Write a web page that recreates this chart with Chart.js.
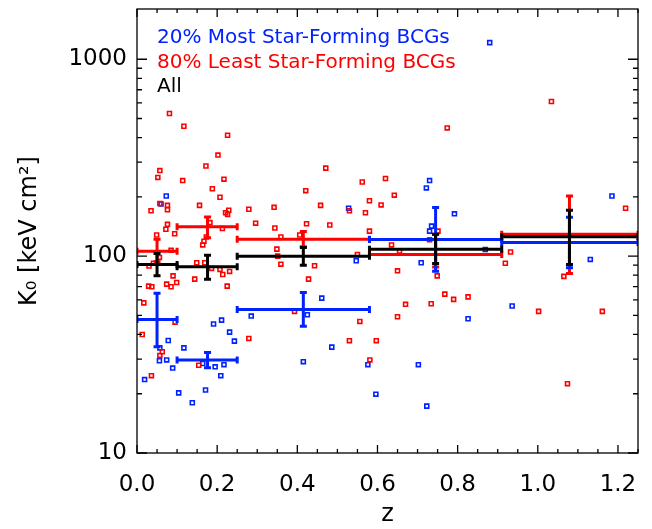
<!DOCTYPE html>
<html><head><meta charset="utf-8">
<script src="https://cdn.jsdelivr.net/npm/chart.js@4/dist/chart.umd.min.js"></script>
<style>html,body{margin:0;padding:0;background:#fff}#wrap{width:652px;height:529px}</style>
</head><body><div id="wrap"><canvas id="c" width="652" height="529"></canvas></div>
<script>
// ---- data ----
const redZ = [0.081,0.117,0.226,0.202,0.172,0.057,0.052,0.114,0.217,0.188,0.207,0.035,0.057,0.076,0.076,0.156,0.221,0.229,0.226,0.279,0.296,0.076,0.072,0.094,0.049,0.182,0.213,0.173,0.167,0.164,0.085,0.030,0.041,0.056,0.149,0.169,0.186,0.207,0.214,0.231,0.090,0.099,0.074,0.085,0.029,0.037,0.144,0.225,0.017,0.095,0.013,0.279,0.063,0.057,0.154,0.036,0.471,0.562,0.620,0.642,0.421,0.342,0.458,0.580,0.609,0.530,0.570,0.344,0.423,0.481,0.359,0.406,0.580,0.635,0.349,0.351,0.359,0.443,0.428,0.550,0.650,0.393,0.556,0.650,0.530,0.597,0.581,0.774,0.751,0.730,0.655,0.932,0.919,0.749,0.768,0.790,0.826,0.670,0.734,1.034,1.219,1.065,1.002,1.161,1.074];
const redK = [530,457,411,326,287,272,251,242,246,220,199,170,185,181,172,181,166,171,163,173,147,145,137,130,128,148,138,125,119,114,107,89,92,98.5,92.5,92.5,86.6,85.6,80.7,83.6,79.4,73.5,72.1,69.9,70.4,69.9,76.4,70.4,57.9,46.2,40.0,38.2,32.7,31.3,27.9,24.7,280,238,248,204,215,177,181,191,182,170,166,139,146,144,125,128,134,114,108.5,100,91,89.3,76.4,102,84.2,52.4,46.6,49.2,37.2,37.2,29.7,448,134,121,106,105,92,79.4,64.1,60.3,62.1,56.9,57.3,610,175,78.9,52.4,52.4,22.5];
const blueZ = [0.073,0.060,0.191,0.211,0.231,0.243,0.285,0.078,0.117,0.057,0.056,0.074,0.089,0.164,0.195,0.217,0.209,0.019,0.104,0.171,0.138,0.528,0.547,0.461,0.425,0.486,0.415,0.576,0.596,0.880,0.730,0.722,0.792,0.735,0.730,0.869,0.709,0.936,0.826,0.702,0.723,1.131,1.185];
const blueK = [202,184,45.2,47.3,41.1,37.0,49.6,37.3,34.2,34.2,29.4,29.7,27.0,28.5,27.4,28.1,24.7,23.6,20.2,20.9,18.0,175,94.7,61.2,50.4,34.5,29.1,28.1,19.9,1215,242,222,164,142,134,108,92.5,55.8,48.1,28.1,17.3,96.2,202];

const binEdges = [0, 0.1, 0.25, 0.58, 0.91, 1.25];
const binZ = [0.050, 0.176, 0.415, 0.745, 1.079];
const redMed = [106, 141, 122, 102, 129];
const redLo  = [93.6, 124, 111.5, 88, 81.7];
const redHi  = [122, 158, 133.5, 129, 202];
const allMed = [90.8, 88.2, 100, 108.5, 125.3];
const allLo  = [79.4, 76.4, 90, 91.8, 90.8];
const allHi  = [103, 101, 110.7, 129, 171];
const blueMed = [47.7, 29.7, 53.6, 121.6, 117.3];
const blueLo  = [34.6, 27.1, 44, 83.9, 87.2];
const blueHi  = [64.7, 32.4, 65.4, 176.7, 157.8];

const xTickValues = [0.0, 0.2, 0.4, 0.6, 0.8, 1.0, 1.2];
const yTickValues = [10, 100, 1000];
const legendLabels = ['20% Most Star-Forming BCGs', '80% Least Star-Forming BCGs', 'All'];

// ---- styles ----
const RED = '#ff0000', BLUE = '#0022ff', BLACK = '#000000';
const FONT = '"DejaVu Sans", sans-serif';

function pts(zs, ks) { return zs.map((z, i) => ({x: z, y: ks[i]})); }
function segs(med) {
  const out = [];
  for (let i = 0; i < med.length; i++) {
    out.push({x: binEdges[i], y: med[i]}, {x: binEdges[i+1], y: med[i]}, {x: binEdges[i+1], y: null});
  }
  return out;
}
const groups = [
  {med: redMed, lo: redLo, hi: redHi, color: RED},
  {med: blueMed, lo: blueLo, hi: blueHi, color: BLUE},
  {med: allMed, lo: allLo, hi: allHi, color: BLACK}
];

const lineDs = (data, color) => ({type: 'line', data, showLine: true, spanGaps: false, borderColor: color, borderWidth: 3, pointRadius: 0, fill: false, borderCapStyle: 'butt'});
const ptDs = (data, color) => ({data, showLine: false, pointStyle: 'rect', pointRadius: 2.8, pointBorderWidth: 1.6, borderColor: color, backgroundColor: 'rgba(0,0,0,0)', pointHoverRadius: 2.8});

const errPlugin = {
  id: 'errbars',
  afterDatasetsDraw(chart) {
    const ctx = chart.ctx, xs = chart.scales.x, ys = chart.scales.y;
    ctx.save();
    ctx.beginPath();
    ctx.rect(chart.chartArea.left, chart.chartArea.top, chart.chartArea.right - chart.chartArea.left, chart.chartArea.bottom - chart.chartArea.top);
    ctx.clip();
    for (const g of groups) {
      ctx.strokeStyle = g.color; ctx.lineWidth = 3; ctx.lineCap = 'butt';
      for (let i = 0; i < g.med.length; i++) {
        const px = xs.getPixelForValue(binZ[i]);
        const pl = ys.getPixelForValue(g.lo[i]), ph = ys.getPixelForValue(g.hi[i]);
        const pm = ys.getPixelForValue(g.med[i]);
        ctx.beginPath();
        ctx.moveTo(px, pl); ctx.lineTo(px, ph);
        ctx.moveTo(px - 3.5, pl); ctx.lineTo(px + 3.5, pl);
        ctx.moveTo(px - 3.5, ph); ctx.lineTo(px + 3.5, ph);
        const e0 = xs.getPixelForValue(binEdges[i]), e1 = xs.getPixelForValue(binEdges[i+1]);
        ctx.moveTo(e0, pm - 3.5); ctx.lineTo(e0, pm + 3.5);
        ctx.moveTo(e1, pm - 3.5); ctx.lineTo(e1, pm + 3.5);
        ctx.stroke();
      }
    }
    ctx.restore();
  }
};

const framePlugin = {
  id: 'frame',
  afterDraw(chart) {
    const ctx = chart.ctx, a = chart.chartArea, xs = chart.scales.x, ys = chart.scales.y;
    ctx.save();
    ctx.strokeStyle = '#000'; ctx.lineWidth = 1.3;
    ctx.strokeRect(a.left, a.top, a.right - a.left, a.bottom - a.top);
    ctx.beginPath();
    for (let k = 0; k <= 25; k++) {
      const v = k * 0.05;
      const p = xs.getPixelForValue(v);
      const len = (k % 4 === 0) ? 8 : 4;
      ctx.moveTo(p, a.bottom); ctx.lineTo(p, a.bottom - len);
      ctx.moveTo(p, a.top); ctx.lineTo(p, a.top + len);
    }
    for (let d = 10; d <= 1000; d *= 10) {
      for (let m = 1; m <= 9; m++) {
        const v = d * m;
        if (v > ys.max) break;
        const p = ys.getPixelForValue(v);
        const len = (m === 1) ? 10 : 5;
        ctx.moveTo(a.left, p); ctx.lineTo(a.left + len, p);
        ctx.moveTo(a.right, p); ctx.lineTo(a.right - len, p);
      }
    }
    ctx.stroke();
    ctx.font = '20px ' + FONT;
    ctx.textBaseline = 'middle'; ctx.textAlign = 'left';
    const cols = [BLUE, RED, BLACK];
    legendLabels.forEach((t, i) => {
      ctx.fillStyle = cols[i];
      ctx.fillText(t, a.left + 20, a.top + 29 + i * 24.5);
    });
    ctx.restore();
  }
};

const noPad = s => { s.paddingTop = 0; s.paddingBottom = 0; s.paddingLeft = 0; s.paddingRight = 0; };

new Chart(document.getElementById('c'), {
  type: 'scatter',
  data: {
    datasets: [
      lineDs(segs(allMed), BLACK),
      lineDs(segs(blueMed), BLUE),
      lineDs(segs(redMed), RED),
      ptDs(pts(redZ, redK), RED),
      ptDs(pts(blueZ, blueK), BLUE)
    ]
  },
  options: {
    responsive: false,
    devicePixelRatio: 1,
    animation: false,
    events: [],
    layout: {padding: {left: 0, right: 14, top: 9, bottom: 0}},
    plugins: {legend: {display: false}, tooltip: {enabled: false}},
    scales: {
      x: {
        type: 'linear', min: 0, max: 1.25,
        afterBuildTicks: s => { s.ticks = xTickValues.map(v => ({value: v})); },
        afterFit: s => { s.height = 76; noPad(s); },
        grid: {display: false, drawTicks: false},
        border: {display: false},
        ticks: {color: '#000', font: {family: FONT, size: 23}, padding: 18, maxRotation: 0, autoSkip: false,
                callback: v => Number(v).toFixed(1)},
        title: {display: true, text: 'z', color: '#000', font: {family: FONT, size: 24}, padding: {top: 0, bottom: 0}}
      },
      y: {
        type: 'logarithmic', min: 10, max: 1800,
        afterBuildTicks: s => { s.ticks = yTickValues.map(v => ({value: v})); },
        afterFit: s => { s.width = 137; noPad(s); },
        grid: {display: false, drawTicks: false},
        border: {display: false},
        ticks: {color: '#000', font: {family: FONT, size: 23}, padding: 10, autoSkip: false,
                callback: v => String(v)},
        title: {display: true, text: 'K\u2080 [keV cm\u00B2]', color: '#000', font: {family: FONT, size: 24}, padding: {top: 15, bottom: 0}}
      }
    }
  },
  plugins: [errPlugin, framePlugin]
});
</script></body></html>
